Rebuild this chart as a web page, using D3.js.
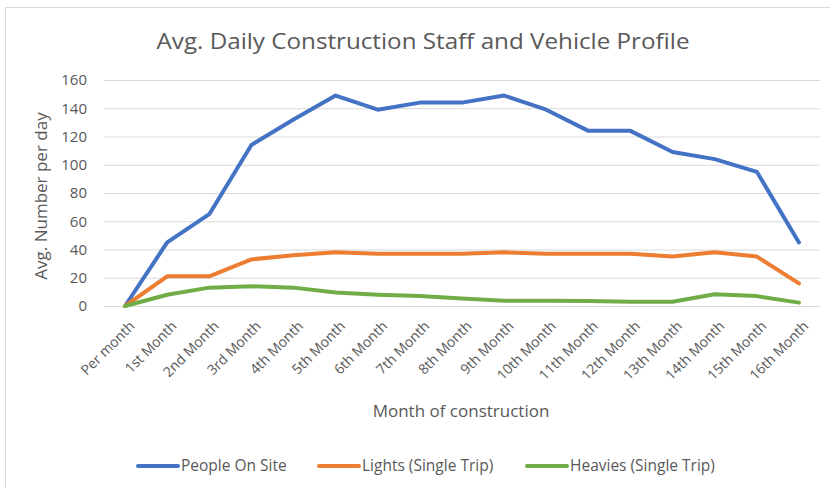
<!DOCTYPE html>
<html>
<head>
<meta charset="utf-8">
<script src="https://cdn.jsdelivr.net/npm/d3@7"></script>
<style>
  body { margin: 0; background: #fff; }
  text { font-family: "Open Sans", sans-serif; fill: #595959; }
</style>
</head>
<body>
<div id="chart"></div>
<script>
const months = ["Per month", "1st Month", "2nd Month", "3rd Month", "4th Month", "5th Month",
    "6th Month", "7th Month", "8th Month", "9th Month", "10th Month", "11th Month",
    "12th Month", "13th Month", "14th Month", "15th Month", "16th Month"];
const people = [0, 45, 65, 114, 132, 149, 139, 144, 144, 149, 139, 124, 124, 109, 104, 95, 45];
const lights = [0, 21, 21, 33, 36, 38, 37, 37, 37, 38, 37, 37, 37, 35, 38, 35, 16];
const heavies = [0, 8, 13, 14, 13, 9.5, 8, 7, 5.3, 3.8, 3.8, 3.5, 3, 3, 8.3, 7, 2.4];
const yTicks = [0, 20, 40, 60, 80, 100, 120, 140, 160];

const series = [
    { name: "People On Site", values: people, color: "#4472C4" },
    { name: "Lights (Single Trip)", values: lights, color: "#ED7D31" },
    { name: "Heavies (Single Trip)", values: heavies, color: "#70AD47" }
];

const width = 830,
      height = 488,
      margin = ({ top: 80, right: 10, bottom: 182, left: 104 });

let svg = d3.select("#chart")
    .append("svg")
    .attr("width", width)
    .attr("height", height);

// chart border (right and bottom run off the page)
svg.append("rect")
    .attr("x", 5.5).attr("y", 7.5)
    .attr("width", 840).attr("height", 500)
    .attr("fill", "none")
    .attr("stroke", "#d9d9d9");

let x = d3.scalePoint()
    .domain(months)
    .range([margin.left, width - margin.right])
    .padding(0.5);

let y = d3.scaleLinear()
    .domain([0, 160])
    .range([height - margin.bottom, margin.top]);

// gridlines + y labels
svg.append("g")
    .attr("transform", `translate(${margin.left},0)`)
    .call(d3.axisLeft(y).tickValues(yTicks).tickSize(-(width - margin.right - margin.left)).tickPadding(17))
    .call(g => g.select(".domain").remove())
    .call(g => g.selectAll("line").attr("stroke", "#d9d9d9").attr("stroke-width", 1))
    .call(g => g.selectAll("text")
        .style("font-family", "'Open Sans', sans-serif")
        .style("font-size", "15px")
        .attr("fill", "#595959"));

// x labels rotated
svg.append("g")
    .attr("transform", `translate(0,${height - margin.bottom})`)
    .call(d3.axisBottom(x).tickSize(0).tickPadding(0))
    .call(g => g.select(".domain").remove())
    .call(g => g.selectAll("text")
        .style("font-family", "'Open Sans', sans-serif")
        .style("font-size", "14px")
        .attr("fill", "#595959")
        .attr("text-anchor", "end")
        .attr("dy", null)
        .attr("y", 0)
        .attr("transform", "translate(10,21) rotate(-45)"));

let line = d3.line()
    .x((d, i) => x(months[i]))
    .y(d => y(d));

svg.selectAll(".series")
    .data(series)
    .join("path")
    .attr("class", "series")
    .attr("d", d => line(d.values))
    .attr("fill", "none")
    .attr("stroke", d => d.color)
    .attr("stroke-width", 4)
    .attr("stroke-linejoin", "round")
    .attr("stroke-linecap", "round");

// title
svg.append("text")
    .attr("x", 423).attr("y", 49)
    .attr("text-anchor", "middle")
    .attr("textLength", 533)
    .attr("lengthAdjust", "spacingAndGlyphs")
    .style("font-size", "22px")
    .text("Avg. Daily Construction Staff and Vehicle Profile");

// axis titles
svg.append("text")
    .attr("x", 461).attr("y", 417)
    .attr("text-anchor", "middle")
    .style("font-size", "17px")
    .text("Month of construction");

svg.append("text")
    .attr("transform", "translate(47,196) rotate(-90)")
    .attr("text-anchor", "middle")
    .style("font-size", "17px")
    .text("Avg. Number per day");

// legend
const legendX = [138, 319, 527];
let legend = svg.selectAll(".legend")
    .data(series)
    .join("g")
    .attr("class", "legend")
    .attr("transform", (d, i) => `translate(${legendX[i]},466)`);

legend.append("line")
    .attr("x1", 0).attr("x2", 40)
    .attr("stroke", d => d.color)
    .attr("stroke-width", 4)
    .attr("stroke-linecap", "round");

legend.append("text")
    .attr("x", 43)
    .attr("dy", "0.35em")
    .style("font-size", "15.5px")
    .text(d => d.name);
</script>
</body>
</html>
